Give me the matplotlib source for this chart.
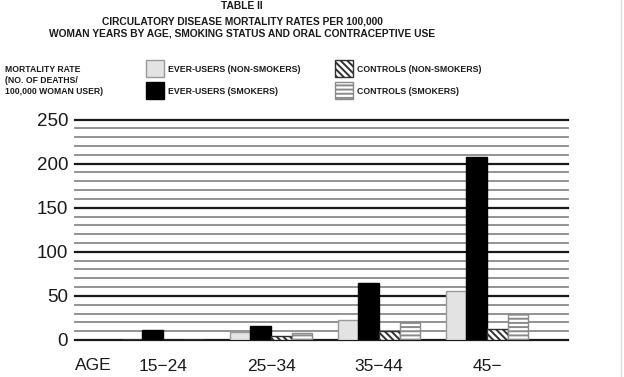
import numpy as np
import matplotlib
matplotlib.use('Agg')
import matplotlib.pyplot as plt
from matplotlib.patches import Rectangle

plt.rcParams['font.family'] = ['Liberation Sans', 'DejaVu Sans']
plt.rcParams['hatch.linewidth'] = 1.4

ages = ['15\u221224', '25\u221234', '35\u221244', '45\u2212']
ever_nonsmk = [0, 9, 23, 55]
ever_smk    = [11, 16, 65, 207]
ctrl_nonsmk = [0, 5, 10, 12]
ctrl_smk    = [0, 8, 20, 29]

labels = ['EVER-USERS (NON-SMOKERS)', 'EVER-USERS (SMOKERS)',
          'CONTROLS (NON-SMOKERS)', 'CONTROLS (SMOKERS)']

fig = plt.figure(figsize=(6.24, 3.77), dpi=100)
ax = fig.add_axes([75/624., 37/377., 493/624., 220.5/377.])

# grid lines: heavy every 50, light every 10
for v in range(0, 251, 10):
    if v % 50 == 0:
        ax.axhline(v, color='#1a1a1a', lw=1.6, clip_on=False, zorder=1)
    else:
        ax.axhline(v, color='#8a8a8a', lw=1.3, clip_on=False, zorder=1)

x = np.arange(len(ages))
w = 0.19
series = [ever_nonsmk, ever_smk, ctrl_nonsmk, ctrl_smk]
styles = [dict(facecolor='#e3e3e3', edgecolor='#9a9a9a', hatch=None),
          dict(facecolor='black', edgecolor='black', hatch=None),
          dict(facecolor='white', edgecolor='#303030', hatch='\\\\\\\\\\'),
          dict(facecolor='white', edgecolor='#8a8a8a', hatch='----')]
for i, (vals, st) in enumerate(zip(series, styles)):
    ax.bar(x + (i - 2) * w, vals, width=w, align='edge', lw=1.0, zorder=3, **st)

ax.set_xlim(-0.815, 3.75)
ax.set_ylim(0, 250)
for s in ax.spines.values():
    s.set_visible(False)
ax.set_yticks([0, 50, 100, 150, 200, 250])
ax.tick_params(axis='y', length=0, pad=5, labelsize=13.5, colors='#1a1a1a')
ax.set_xticks(x)
ax.set_xticklabels(ages)
ax.tick_params(axis='x', length=0, pad=14, labelsize=12.5, colors='#1a1a1a')
fig.text(75/624., 1 - 365.5/377., 'AGE', fontsize=12.5, va='center', ha='left', color='#1a1a1a')

# title
tx = 242/624.
tkw = dict(ha='center', va='center', fontsize=7.4, fontweight='bold', color='#1a1a1a')
fig.text(tx, 1 - 6/377., 'TABLE II', **tkw)
fig.text(tx, 1 - 21/377., 'CIRCULATORY DISEASE MORTALITY RATES PER 100,000', **tkw)
fig.text(tx, 1 - 33.5/377., 'WOMAN YEARS BY AGE, SMOKING STATUS AND ORAL CONTRACEPTIVE USE', **tkw)

# y axis caption
ckw = dict(ha='left', va='center', fontsize=6.2, fontweight='bold', color='#1a1a1a')
fig.text(5/624., 1 - 69/377., 'MORTALITY RATE', **ckw)
fig.text(5/624., 1 - 80.5/377., '(NO. OF DEATHS/', **ckw)
fig.text(5/624., 1 - 92/377., '100,000 WOMAN USER)', **ckw)

# legend boxes
boxes = [(146, 60), (146, 82), (335, 60), (335, 82)]
for (bx, by), st, lab in zip(boxes, styles, labels):
    r = Rectangle((bx/624., 1 - (by + 17)/377.), 18/624., 17/377., transform=fig.transFigure,
                  facecolor=st['facecolor'], edgecolor=st['edgecolor'], hatch=st['hatch'], lw=1.0)
    fig.add_artist(r)
    fig.text((bx + 22)/624., 1 - (by + 9)/377., lab, ha='left', va='center', fontsize=6.3,
             fontweight='bold', color='#1a1a1a')

fig.add_artist(plt.Line2D([621/624., 621/624.], [0, 1], transform=fig.transFigure, color='#dddddd', lw=1))

fig.savefig('out.png', dpi=100)
